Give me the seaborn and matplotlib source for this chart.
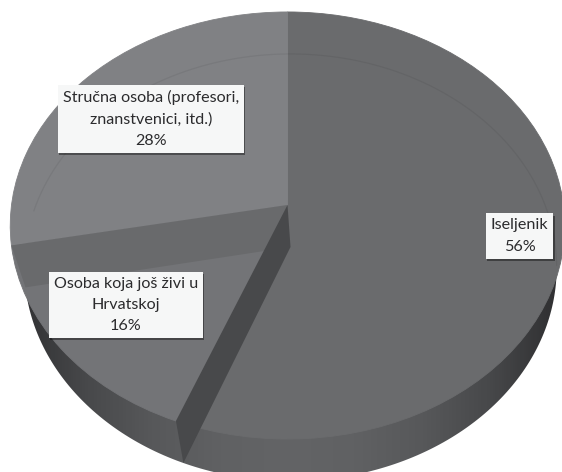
import numpy as np
import matplotlib
matplotlib.use("Agg")
import matplotlib.pyplot as plt
import matplotlib.patheffects as pe
from matplotlib.patches import Polygon
from matplotlib.path import Path
from matplotlib.transforms import Transform
import seaborn as sns

# data
labels = ["Iseljenik\n56%", "Osoba koja još živi u\nHrvatskoj\n16%", "Stručna osoba (profesori,\nznanstvenici, itd.)\n28%"]
shares = [56, 16, 28]
face_colors = ["#6a6b6d", "#737477", "#808184"]
label_pos = [(519.5, 236), (126, 305), (151, 119)]

# pie projection, in pixels of the picture
APEX_X, APEX_Y = 287.5, 205
RADIUS_X = 276
TILT_A, TILT_C = -191.9, 0.096
DEPTH = 42
BOTTOM_SCALE = 0.96
BOTTOM_SHIFT = 3


def project(points, depth=0, scale=1.0, shift=0):
    points = np.asarray(points, dtype=float)
    w = 1 + TILT_C * points[:, 1]
    x = APEX_X + shift + scale * RADIUS_X * points[:, 0] / w
    y = (TILT_A * points[:, 1] + APEX_Y) / w + depth
    return np.column_stack([x, y])


def project_bottom(points):
    return project(points, DEPTH, BOTTOM_SCALE, BOTTOM_SHIFT)


class TiltTransform(Transform):
    input_dims = 2
    output_dims = 2

    def transform_non_affine(self, values):
        return project(values)


def on_circle(angle):
    a = np.deg2rad(angle)
    return np.column_stack([np.cos(a), np.sin(a)])


def inner_wall(angle, color, z):
    # cut face of a slice, from the rim and centre down to the bottom of the pie
    top = project([[0, 0], on_circle(angle)[0]])
    bottom = project_bottom([on_circle(angle)[0], [0, 0]])
    ax.add_patch(Polygon(np.vstack([top, bottom]), closed=True, fc=color, ec="none", zorder=z))


sns.set_theme(style="white")
plt.rcParams["font.family"] = ["Lato", "DejaVu Sans"]

fig = plt.figure(figsize=(5.62, 4.72), dpi=100, facecolor="white")
ax = fig.add_axes([0, 0, 1, 1])

wedges, _ = ax.pie(shares, colors=face_colors, startangle=90, counterclock=False, wedgeprops={"linewidth": 0, "zorder": 2})
tilt = TiltTransform()
for wedge, color in zip(wedges, face_colors):
    wedge.set_transform(tilt + ax.transData)
    wedge.set_edgecolor(color)
    wedge.set_linewidth(0.6)
ax.axis("off")

# outer side of the pie, dark at both ends
side_cmap = sns.blend_palette(["#2f2f31", "#47484a", "#57585a", "#606163", "#636466", "#606163", "#57585a", "#47484a", "#2f2f31"], as_cmap=True)
side = ax.imshow(np.linspace(0, 1, 300)[None, :], extent=(15, 560, 480, 200), cmap=side_cmap, aspect="auto", zorder=1)
ring = project_bottom(on_circle(np.linspace(0, 360, 361)))
side.set_clip_path(Path(ring, closed=True), transform=ax.transData)
ax.set(aspect="auto", xlim=(0, 562), ylim=(472, 0))

# slice boundaries going clockwise from the top
bounds = 90 - 3.6 * np.cumsum(shares)
inner_wall(bounds[1], "#696a6c", 3)
inner_wall(bounds[0], "#48494b", 4)

# faint rim of the bottom showing through the top face
back = project_bottom(on_circle(np.linspace(170, -5, 200)))
ax.plot(back[:, 0], back[:, 1], color="black", alpha=0.06, lw=0.9, zorder=3)

for text, (x, y) in zip(labels, label_pos):
    t = ax.text(x, y, text, ha="center", va="center", fontsize=11.6, color="#2b2b2d", linespacing=1.68, zorder=6,
                bbox=dict(boxstyle="square,pad=0.3", fc="#f6f7f7", ec="none"))
    t.get_bbox_patch().set_path_effects([pe.SimplePatchShadow(offset=(1, -1.5), alpha=0.4, shadow_rgbFace="black"), pe.Normal()])

fig.savefig("out.png", dpi=100)
